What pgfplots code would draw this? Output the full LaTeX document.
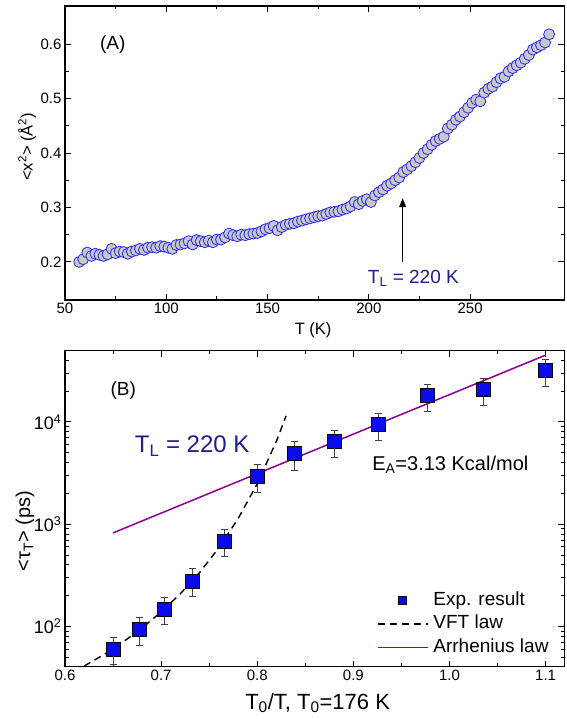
\documentclass[border=0pt]{standalone}
\usepackage{pgfplots}
\pgfplotsset{compat=1.18}
\usepackage{pgfplotstable}
\usetikzlibrary{arrows.meta}
\usepackage{fontspec}
\setmainfont{Liberation Sans}
\definecolor{navytxt}{RGB}{30,30,140}
\definecolor{circfill}{RGB}{200,200,200}
\definecolor{circedge}{RGB}{40,40,240}
\definecolor{sqblue}{RGB}{10,10,235}
\definecolor{arrh}{RGB}{140,0,140}
\pgfplotsset{
  vftleg/.style={legend image code/.code={\draw[black, line width=1.4pt, dash pattern=on 7pt off 5pt] (0pt,0pt) -- (50pt,0pt);}},
  arrleg/.style={legend image code/.code={\draw[draw=arrh, line width=1.5pt] (0pt,0pt) -- (50pt,0pt);}},
  markleg/.style={legend image code/.code={\path (0pt,0pt) (50pt,0pt);
     \draw[mark=square*, mark size=4pt, mark options={fill=sqblue, draw=black, line width=0.8pt}] plot coordinates {(25pt,0pt)};}},
}

\pgfplotstableread{
T v
57 0.200
59 0.205
61 0.217
63 0.211
65 0.215
67 0.213
69 0.211
71 0.214
73 0.224
75 0.216
77 0.219
79 0.218
81 0.215
83 0.219
85 0.221
87 0.224
89 0.222
91 0.226
93 0.227
95 0.226
97 0.229
99 0.228
101 0.226
103 0.224
105 0.231
107 0.232
109 0.234
111 0.238
113 0.232
115 0.240
117 0.238
119 0.236
121 0.239
123 0.236
125 0.241
127 0.241
129 0.245
131 0.252
133 0.249
135 0.247
137 0.250
139 0.249
141 0.251
143 0.252
145 0.253
147 0.256
149 0.260
151 0.262
153 0.266
155 0.258
157 0.264
159 0.268
161 0.270
163 0.271
165 0.274
167 0.276
169 0.278
171 0.280
173 0.282
175 0.284
177 0.285
179 0.288
181 0.291
183 0.292
185 0.293
187 0.296
189 0.298
191 0.302
193 0.310
195 0.306
197 0.312
199 0.315
201 0.310
203 0.322
205 0.328
207 0.333
209 0.340
211 0.344
213 0.350
215 0.355
217 0.365
219 0.370
221 0.376
223 0.383
225 0.391
227 0.400
229 0.407
231 0.415
233 0.422
235 0.426
237 0.430
239 0.445
241 0.452
243 0.461
245 0.467
247 0.475
249 0.483
251 0.492
253 0.498
255 0.495
257 0.511
259 0.518
261 0.522
263 0.530
265 0.537
267 0.540
269 0.550
271 0.556
273 0.561
275 0.566
277 0.573
279 0.580
281 0.590
283 0.594
285 0.598
287 0.603
289 0.618
}\msddata

\pgfplotstableread{
x y ep em
0.650 60 18 17
0.677 94 30 28
0.703 148 44 44
0.733 276 92 79
0.766 681 206 202
0.800 2910 960 880
0.839 4950 1500 1580
0.880 6430 1910 1890
0.926 9370 2630 2770
0.977 18000 5400 5200
1.035 20900 5900 6300
1.0995 32000 9100 9800
}\taudata

\pgfplotstableread{
x y
0.62 41.1
0.64 52.9
0.66 70.2
0.68 96.6
0.70 138.6
0.72 209.4
0.74 337.1
0.76 587.3
0.78 1132
0.80 2489
0.82 6519
0.83 11482
}\vftdata

\pgfplotstableread{
x y
0.65 823
1.10 45000
}\arrdata

\begin{document}
\begin{tikzpicture}[x=1pt,y=1pt]
\path[use as bounding box] (0,0) rectangle (566,719);

% ---------------- Panel A ----------------
\begin{axis}[
  at={(65pt,419pt)}, anchor=south west,
  scale only axis, width=499.3pt, height=294pt,
  xmin=50, xmax=296.5, ymin=0.13, ymax=0.67,
  xtick={50,100,...,250}, ytick={0.2,0.3,...,0.6},
  minor x tick num=1, minor y tick num=1,
  tick align=inside, xtick pos=both, ytick pos=both,
  xticklabel pos=lower, yticklabel pos=left,
  major tick length=6pt, minor tick length=3.5pt,
  every tick/.style={black, line width=0.9pt},
  axis line style={line width=1.1pt},
  /pgf/number format/assume math mode=true,
  ticklabel style={font=\fontsize{15}{17}\selectfont},
  yticklabel style={/pgf/number format/.cd, fixed, fixed zerofill, precision=1},
  xticklabel style={/pgf/number format/.cd, fixed, precision=0},
  xlabel={T (K)},
  xlabel style={at={(axis description cs:0.497,-0.119)}, anchor=base, font=\fontsize{16.5}{18}\selectfont},
  ylabel={<x\textsuperscript{2}> (Å\textsuperscript{2})},
  ylabel style={at={(axis description cs:-0.076,0.521)}, anchor=center, font=\fontsize{16.5}{18}\selectfont},
]
\addplot[only marks, mark=*, mark size=5.5pt,
  mark options={fill=circfill, draw=circedge, line width=0.8pt}] table[x=T, y=v] {\msddata};
\draw[-{Triangle[length=9pt,width=7pt]}, line width=1.2pt] (axis cs:216.7,0.200) -- (axis cs:216.7,0.317);
\node[navytxt, font=\fontsize{19}{21}\selectfont] at (axis cs:222,0.170) {T\textsubscript{L} = 220 K};
\node[anchor=west, font=\fontsize{19}{21}\selectfont] at (axis cs:65.6,0.600) {(A)};
\end{axis}

% ---------------- Panel B ----------------
\begin{axis}[
  at={(65pt,52.3pt)}, anchor=south west,
  scale only axis, width=499.3pt, height=316pt,
  ymode=log,
  xmin=0.6, xmax=1.1194, ymin=40.5, ymax=49700,
  xtick={0.6,0.7,...,1.1}, minor x tick num=1,
  ytick={100,1000,10000},
  yticklabels={10\textsuperscript{2},10\textsuperscript{3},10\textsuperscript{4}},
  minor ytick={50,60,70,80,90,200,300,400,500,600,700,800,900,2000,3000,4000,5000,6000,7000,8000,9000,20000,30000,40000},
  tick align=inside, xtick pos=both, ytick pos=both,
  xticklabel pos=lower, yticklabel pos=left,
  major tick length=6pt, minor tick length=3.5pt,
  every tick/.style={black, line width=0.9pt},
  axis line style={line width=1.1pt},
  /pgf/number format/assume math mode=true,
  xticklabel style={font=\fontsize{15}{17}\selectfont, /pgf/number format/.cd, fixed, fixed zerofill, precision=1},
  yticklabel style={font=\fontsize{18}{20}\selectfont},
  xlabel={T\textsubscript{0}/T, T\textsubscript{0}=176 K},
  xlabel style={at={(axis description cs:0.506,-0.1348)}, anchor=base, font=\fontsize{22}{24}\selectfont},
  ylabel={<τ\textsubscript{T}> (ps)},
  ylabel style={at={(axis description cs:-0.080,0.429)}, anchor=center, font=\fontsize{20}{22}\selectfont},
  legend style={at={(axis description cs:0.6243,0.2396)}, anchor=north west,
    draw=none, fill=none, inner sep=0pt, column sep=5pt, row sep=5.7pt,
    font=\fontsize{19}{21}\selectfont,
    nodes={inner sep=0pt, text height=14pt, text depth=4pt}},
  legend cell align=left,
]
\addplot[only marks, mark=square*, mark size=7pt,
  mark options={fill=sqblue, draw=black, line width=0.8pt}, markleg,
  error bars/.cd, y dir=both, y explicit,
  error bar style={black!75, line width=0.9pt},
  error mark options={rotate=90, mark size=3.5pt, black!75, line width=0.9pt},
  ] table[x=x, y=y, y error plus=ep, y error minus=em] {\taudata};
\addlegendentry{Exp. result}
\addplot[color=black, line width=1.4pt, dash pattern=on 7pt off 5pt, vftleg] table[x=x, y=y] {\vftdata};
\addlegendentry{VFT law}
\addplot[color=arrh, line width=1.5pt, arrleg] table[x=x, y=y] {\arrdata};
\addlegendentry{Arrhenius law}
\node[anchor=west, font=\fontsize{19}{21}\selectfont] at (axis cs:0.6437,20100) {(B)};
\node[anchor=west, navytxt, font=\fontsize{24}{26}\selectfont] at (axis cs:0.669,5800) {T\textsubscript{L} = 220 K};
\node[anchor=west, font=\fontsize{20}{22}\selectfont] at (axis cs:0.916,3850) {E\textsubscript{A}=3.13 Kcal/mol};
\end{axis}
\end{tikzpicture}
\end{document}
